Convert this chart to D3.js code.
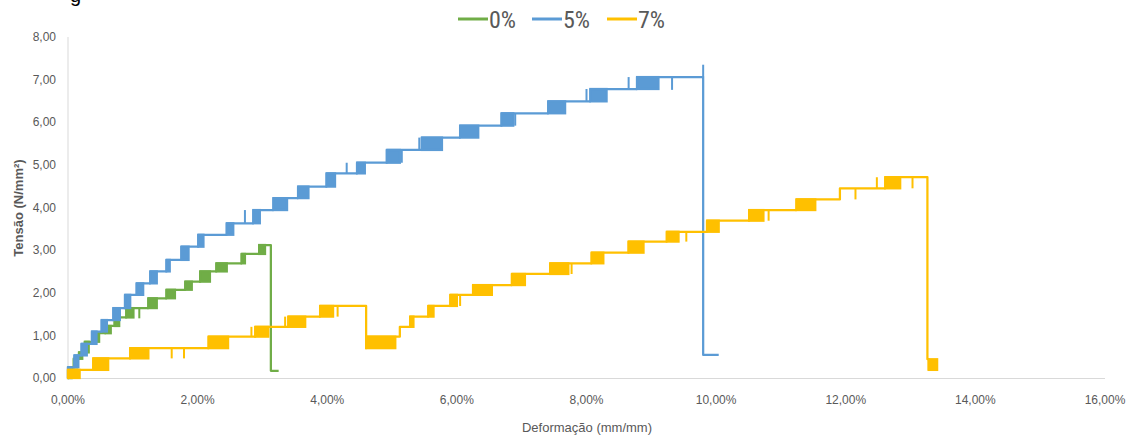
<!DOCTYPE html>
<html lang="pt">
<head>
  <meta charset="utf-8">
  <title>Tensão x Deformação</title>
  <style>
    body {
      margin: 0;
      background: #fff;
    }

    text {
      font-family: "Liberation Sans", Arial, sans-serif;
      fill: #595959;
    }

    .legend text {
      font-family: "Liberation Sans Narrow", "Roboto Condensed", "DejaVu Sans Condensed", sans-serif;
    }
  </style>
</head>

<body>
  <script src="https://d3js.org/d3.v7.min.js"></script>
  <svg width="1129" height="439"></svg>
  <script>
    var series = ["0%", "5%", "7%"];
    var colors = ["#70AD47", "#5B9BD5", "#FFC000"];

    var xTicks = [0, 2, 4, 6, 8, 10, 12, 14, 16];
    var yTicks = [0, 1, 2, 3, 4, 5, 6, 7, 8];

    // each step: [start of the jump (%), end of the noisy band (%), new stress level]
    var steps0 = [
      [0.01, 0.06, 0.25], [0.09, 0.14, 0.45], [0.17, 0.22, 0.60], [0.26, 0.32, 0.85],
      [0.40, 0.48, 1.05], [0.58, 0.66, 1.22], [0.72, 0.79, 1.42], [0.90, 1.01, 1.64],
      [1.24, 1.37, 1.87], [1.52, 1.65, 2.07], [1.81, 1.91, 2.26], [2.04, 2.19, 2.50],
      [2.29, 2.45, 2.69], [2.68, 2.73, 2.91], [2.95, 3.04, 3.12], [3.13, 3.13, 0.17]
    ];
    var end0 = 3.25;

    var steps5 = [
      [0.00, 0.05, 0.25], [0.10, 0.16, 0.53], [0.21, 0.29, 0.80], [0.37, 0.44, 1.09],
      [0.52, 0.60, 1.36], [0.70, 0.80, 1.64], [0.88, 0.96, 1.95], [1.06, 1.16, 2.22],
      [1.27, 1.37, 2.50], [1.52, 1.57, 2.77], [1.75, 1.86, 3.08], [2.01, 2.09, 3.36],
      [2.45, 2.55, 3.63], [2.86, 2.96, 3.94], [3.17, 3.38, 4.22], [3.55, 3.71, 4.49],
      [3.99, 4.12, 4.80], [4.46, 4.58, 5.05], [4.92, 5.12, 5.35], [5.46, 5.77, 5.64],
      [6.05, 6.33, 5.92], [6.69, 6.87, 6.21], [7.41, 7.67, 6.49], [8.06, 8.31, 6.78],
      [8.78, 9.11, 7.06], [9.80, 9.80, 0.54]
    ];
    var end5 = 10.04;

    var steps7 = [
      [0.00, 0.18, 0.19], [0.39, 0.62, 0.46], [0.96, 1.24, 0.70], [2.17, 2.47, 0.97],
      [2.89, 3.09, 1.20], [3.40, 3.66, 1.44], [3.89, 4.09, 1.69], [4.60, 4.60, 0.70],
      [4.60, 5.05, 0.97], [5.12, 5.12, 1.20], [5.28, 5.33, 1.44], [5.56, 5.64, 1.69],
      [5.90, 6.00, 1.95], [6.25, 6.54, 2.18], [6.85, 7.05, 2.44], [7.44, 7.72, 2.69],
      [8.08, 8.26, 2.94], [8.65, 8.88, 3.20], [9.24, 9.42, 3.43], [9.86, 10.04, 3.69],
      [10.51, 10.73, 3.94], [11.24, 11.53, 4.19], [11.91, 11.91, 4.45], [12.61, 12.84, 4.71],
      [13.26, 13.26, 0.44], [13.28, 13.41, 0.19]
    ];
    var end7 = 13.41;

    // single readings that jump away from the plateau: [strain %, from, to]
    var spikes0 = [[1.10, 1.64, 1.40]];
    var spikes5 = [
      [2.73, 3.63, 3.94], [4.30, 4.80, 5.05], [5.15, 5.35, 5.05], [5.42, 5.35, 5.64],
      [6.90, 6.21, 5.92], [8.00, 6.49, 6.78], [8.65, 6.78, 7.06], [9.32, 7.06, 6.76],
      [9.80, 7.06, 7.35]
    ];
    var spikes7 = [
      [1.60, 0.70, 0.46], [1.79, 0.70, 0.46], [2.83, 0.97, 1.20], [3.35, 1.20, 1.44],
      [4.16, 1.69, 1.44], [6.05, 1.95, 1.69], [7.77, 2.69, 2.44], [9.54, 3.43, 3.20],
      [10.81, 3.94, 3.69], [12.15, 4.45, 4.19], [12.48, 4.45, 4.71], [13.03, 4.71, 4.45]
    ];

    var allSteps = [steps0, steps5, steps7];
    var allEnds = [end0, end5, end7];
    var allSpikes = [spikes0, spikes5, spikes7];

    const svg = d3.select('svg');

    var x = d3.scaleLinear().domain([0, 16]).range([68, 1105]);
    var y = d3.scaleLinear().domain([0, 8]).range([378, 37]);

    var comma = function (v, d) { return d3.format("." + d + "f")(v).replace(".", ","); };

    // caption above the chart, cut off by the picture's top edge (as in the source)
    svg.append("text")
      .attr("x", 70).attr("y", 2)
      .style("font-size", "20px").style("fill", "#000")
      .text("g");

    // axes lines
    svg.append("line")
      .attr("x1", x(0)).attr("x2", x(0)).attr("y1", y(8)).attr("y2", y(0))
      .attr("stroke", "#D9D9D9").attr("stroke-width", 1);
    svg.append("line")
      .attr("x1", x(0)).attr("x2", x(16)).attr("y1", y(0) + 0.5).attr("y2", y(0) + 0.5)
      .attr("stroke", "#D9D9D9").attr("stroke-width", 1);

    svg.append("g").selectAll("text")
      .data(yTicks).enter().append("text")
      .attr("x", 56).attr("y", function (d) { return y(d); })
      .attr("dy", "0.35em").attr("text-anchor", "end")
      .style("font-size", "12px")
      .text(function (d) { return comma(d, 2); });

    svg.append("g").selectAll("text")
      .data(xTicks).enter().append("text")
      .attr("x", function (d) { return x(d); }).attr("y", 400)
      .attr("dy", "0.35em").attr("text-anchor", "middle")
      .style("font-size", "12px")
      .text(function (d) { return comma(d, 2) + "%"; });

    svg.append("text")
      .attr("x", 587).attr("y", 432).attr("text-anchor", "middle")
      .style("font-size", "13px")
      .text("Deformação (mm/mm)");

    svg.append("text")
      .attr("transform", "translate(23,208) rotate(-90)")
      .attr("text-anchor", "middle")
      .style("font-size", "13px").style("font-weight", "bold")
      .text("Tensão (N/mm²)");

    var line = d3.line()
      .x(function (d) { return x(d[0]); })
      .y(function (d) { return y(d[1]); })
      .curve(d3.curveStepAfter);

    series.forEach(function (name, i) {
      var steps = allSteps[i];
      var g = svg.append("g").attr("class", "series");
      var pts = [[0, 0]];
      var bands = [];
      var prev = 0;
      steps.forEach(function (s) {
        pts.push([s[0], s[2]]);
        if (s[1] > s[0]) bands.push([s[0], s[1], Math.min(prev, s[2]), Math.max(prev, s[2])]);
        prev = s[2];
      });
      pts.push([allEnds[i], prev]);

      g.append("path")
        .attr("d", line(pts))
        .attr("fill", "none")
        .attr("stroke", colors[i])
        .attr("stroke-width", 2.25)
        .attr("stroke-linejoin", "round");

      g.selectAll("rect").data(bands).enter().append("rect")
        .attr("x", function (d) { return x(d[0]); })
        .attr("width", function (d) { return x(d[1]) - x(d[0]); })
        .attr("y", function (d) { return y(d[3]); })
        .attr("height", function (d) { return y(d[2]) - y(d[3]); })
        .attr("fill", colors[i])
        .attr("stroke", colors[i])
        .attr("stroke-width", 2.25);

      g.selectAll("line").data(allSpikes[i]).enter().append("line")
        .attr("x1", function (d) { return x(d[0]); })
        .attr("x2", function (d) { return x(d[0]); })
        .attr("y1", function (d) { return y(d[1]); })
        .attr("y2", function (d) { return y(d[2]); })
        .attr("stroke", colors[i])
        .attr("stroke-width", 2);
    });

    // legend
    var legendX = [458, 532, 607];
    var legend = svg.append("g").attr("class", "legend");
    series.forEach(function (name, i) {
      legend.append("line")
        .attr("x1", legendX[i]).attr("x2", legendX[i] + 30)
        .attr("y1", 19).attr("y2", 19)
        .attr("stroke", colors[i]).attr("stroke-width", 3);
      legend.append("text")
        .attr("x", legendX[i] + 31).attr("y", 19)
        .attr("dy", "0.36em")
        .style("font-size", "24px")
        .text(name);
    });
  </script>
</body>

</html>
